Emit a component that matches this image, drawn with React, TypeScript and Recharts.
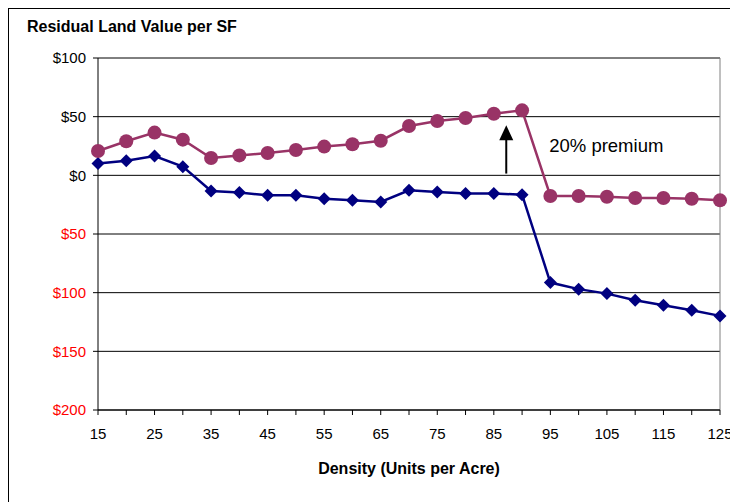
import { LineChart, Line, XAxis, YAxis, CartesianGrid, ReferenceLine, ReferenceDot } from 'recharts';

const density = [15, 20, 25, 30, 35, 40, 45, 50, 55, 60, 65, 70, 75, 80, 85, 90, 95, 100, 105, 110, 115, 120, 125];
const baseValue = [10, 12.5, 16.5, 7.4, -13.4, -14.7, -17, -17, -20, -21.3, -22.7, -12.8, -14.2, -15.4, -15.5, -16.5, -91.4, -97, -100.8, -106.5, -110.8, -115, -119.8];
const premiumValue = [20.7, 29, 36.4, 30.4, 14.8, 17, 19, 21.6, 24.5, 26.5, 29.5, 42, 46.3, 48.8, 52.5, 55.4, -17.6, -17.6, -18.3, -19.3, -19.3, -20, -21.3];
const xTicks = density;
const yTicks = [-200, -150, -100, -50, 0, 50, 100];
const annotationText = '20% premium';

const data = density.map((d, i) => ({ density: d, base: baseValue[i], premium: premiumValue[i] }));

const FONT = '"Liberation Sans", Arial, sans-serif';

const XTick = ({ x, y, payload }: any) => {
  if ((payload.value - 15) % 10 !== 0) return <g />;
  return (
    <text x={x} y={y} dy={24} textAnchor="middle" fontSize={15} fontFamily={FONT} fill="#000">
      {payload.value}
    </text>
  );
};

const YTick = ({ x, y, payload }: any) => (
  <text x={x} y={y} dy="0.355em" textAnchor="end" fontSize={15} fontFamily={FONT} fill={payload.value < 0 ? '#ff0000' : '#000'}>
    {'$' + Math.abs(payload.value)}
  </text>
);

const Diamond = (p: any) => {
  const { cx, cy, index } = p;
  const s = 6.5;
  return <path key={'d' + index} d={`M${cx} ${cy - s}L${cx + s} ${cy}L${cx} ${cy + s}L${cx - s} ${cy}Z`} fill="#000080" />;
};

const Arrow = (p: any) => {
  const { x1, y1, x2, y2 } = p;
  const top = Math.min(y1, y2);
  const bottom = Math.max(y1, y2);
  return (
    <g>
      <line x1={x1} y1={bottom} x2={x2} y2={top + 12} stroke="#000" strokeWidth={2} />
      <path d={`M${x1} ${top}L${x1 + 7} ${top + 15}L${x1 - 7} ${top + 15}Z`} fill="#000" />
    </g>
  );
};

const NoteText = (p: any) => (
  <text x={p.cx} y={p.cy} dy="0.355em" fontSize={18.5} fontFamily={FONT} fill="#000">
    {annotationText}
  </text>
);

export default function App() {
  return (
    <div style={{ position: 'relative', width: 740, height: 500, borderLeft: '1px solid #000', borderTop: '1px solid #000', fontFamily: FONT }}>
      <div style={{ position: 'absolute', left: 18, top: 9, fontSize: 16, fontWeight: 'bold', lineHeight: '18px' }}>
        Residual Land Value per SF
      </div>
      <div style={{ position: 'absolute', left: 89, width: 622, top: 451, textAlign: 'center', fontSize: 16, fontWeight: 'bold', lineHeight: '18px' }}>
        Density (Units per Acre)
      </div>
      <LineChart width={729} height={493} data={data} margin={{ top: 49, right: 18, left: 0, bottom: 62 }}>
        <CartesianGrid vertical={false} stroke="#000" />
        <XAxis
          dataKey="density"
          type="number"
          domain={[15, 125]}
          ticks={xTicks}
          interval={0}
          tick={<XTick />}
          tickSize={5}
          tickMargin={0}
          height={30}
          axisLine={{ stroke: '#000' }}
          tickLine={{ stroke: '#000' }}
        />
        <YAxis
          domain={[-200, 100]}
          ticks={yTicks}
          interval={0}
          tick={<YTick />}
          tickSize={5}
          tickMargin={7}
          width={89}
          axisLine={{ stroke: '#000' }}
          tickLine={{ stroke: '#000' }}
        />
        <ReferenceLine x={125} stroke="#808080" />
        <Line dataKey="base" stroke="#000080" strokeWidth={2.5} dot={Diamond} activeDot={false} isAnimationActive={false} />
        <Line dataKey="premium" stroke="#993366" strokeWidth={2.5} dot={{ r: 7, fill: '#993366', stroke: 'none' }} activeDot={false} isAnimationActive={false} />
        <ReferenceLine segment={[{ x: 87.2, y: 1.5 }, { x: 87.2, y: 42.6 }]} shape={Arrow} />
        <ReferenceDot x={94.8} y={25.5} r={0} shape={NoteText} />
      </LineChart>
    </div>
  );
}
